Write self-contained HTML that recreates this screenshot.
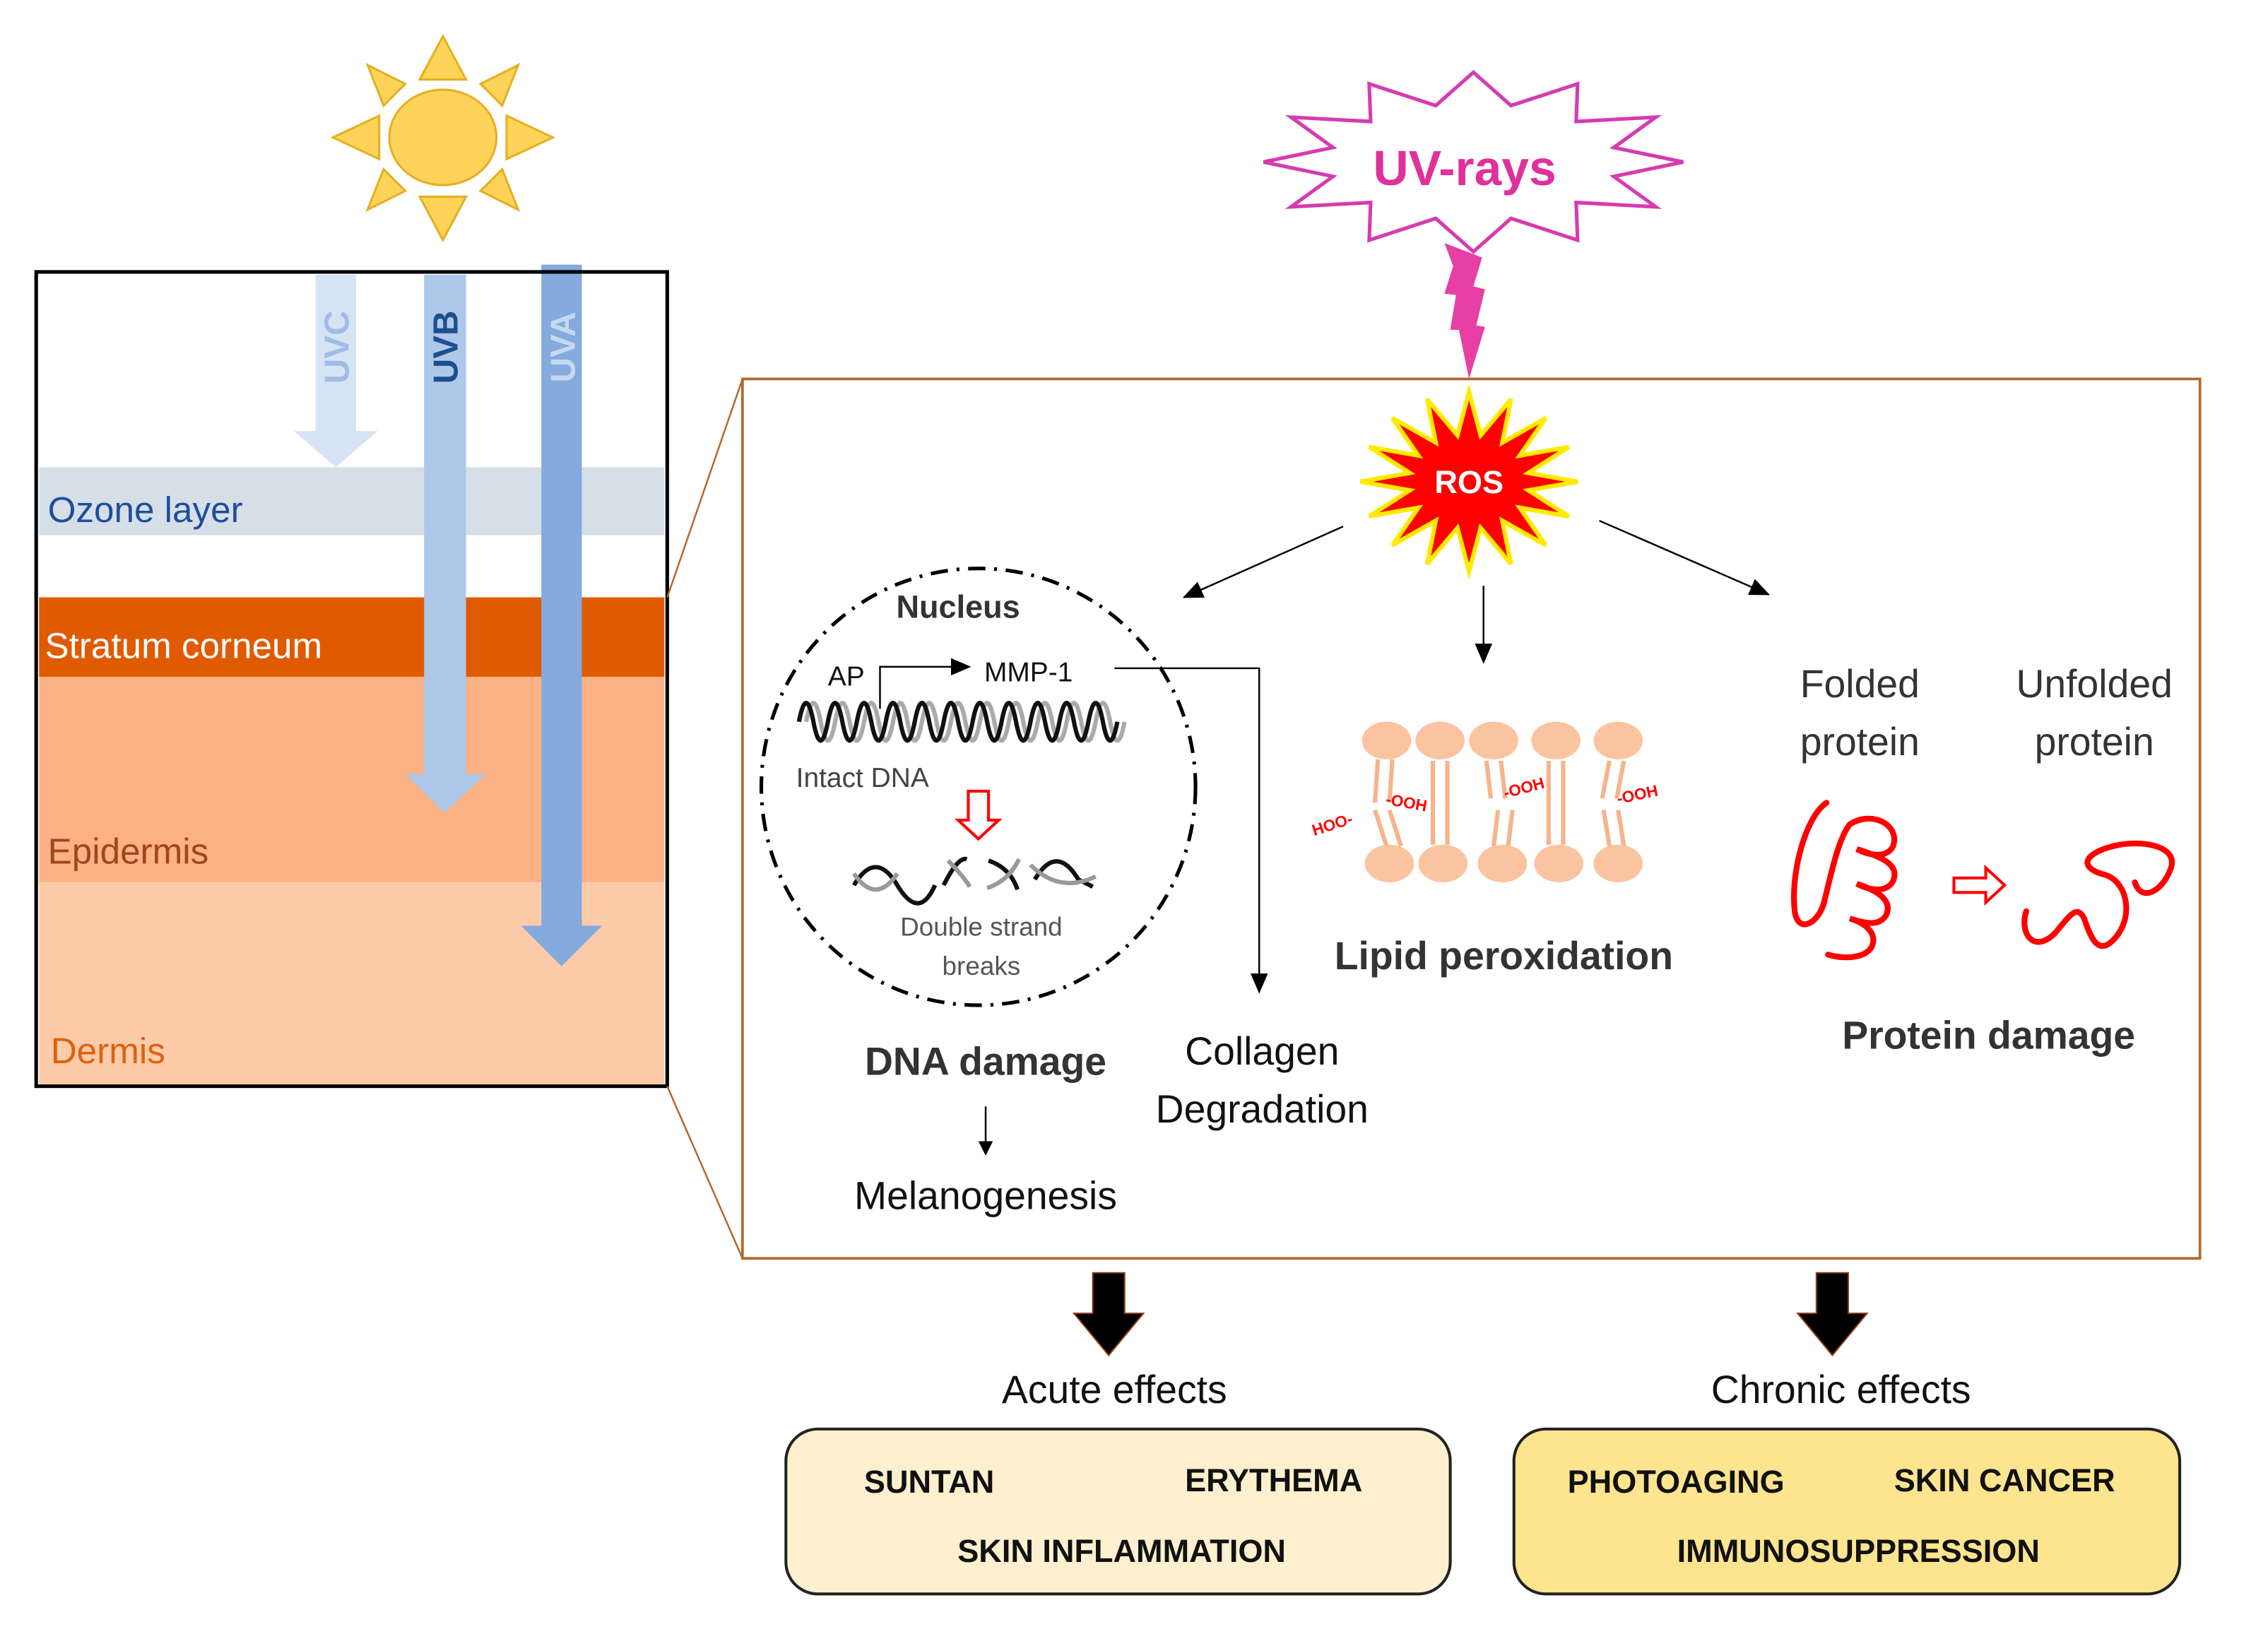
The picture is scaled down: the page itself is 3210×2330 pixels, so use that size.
<!DOCTYPE html>
<html><head><meta charset="utf-8"><style>
html,body{margin:0;padding:0;background:#fff;}
svg{display:block;}
text{font-family:"Liberation Sans",sans-serif;}
</style></head><body>
<svg width="3210" height="2330" viewBox="0 0 1567 1138" preserveAspectRatio="none" xmlns="http://www.w3.org/2000/svg">
<rect width="1567" height="1138" fill="#fff"/>
<!-- Sun -->
<g fill="#fdd35a" stroke="#e4b020" stroke-width="1.5">
<polygon points="306,25 290,55 322,55"/>
<polygon points="306,166 290,136 322,136"/>
<polygon points="230,95 262,80 262,110"/>
<polygon points="382,95 350,80 350,110"/>
<polygon points="358,45 332,58 347,73"/>
<polygon points="254,45 280,58 265,73"/>
<polygon points="358,145 332,132 347,117"/>
<polygon points="254,145 280,132 265,117"/>
<ellipse cx="306" cy="95" rx="37" ry="33"/>
</g>
<!-- Left box layers -->
<rect x="27" y="323" width="432" height="47" fill="#d6dfe8"/>
<rect x="27" y="413" width="432" height="55" fill="#e05a00"/>
<rect x="27" y="468" width="432" height="142" fill="#fbb183"/>
<rect x="27" y="610" width="432" height="140" fill="#fdcba8"/>
<text x="33" y="361" font-size="25" fill="#1f4e9c">Ozone layer</text>
<text x="31" y="455" font-size="25" fill="#fff">Stratum corneum</text>
<text x="33" y="597" font-size="25" fill="#a0461a">Epidermis</text>
<text x="35" y="735" font-size="25" fill="#e06010">Dermis</text>
<!-- UV arrows -->
<polygon points="218,190 246,190 246,298 261,298 232,323 203,298 218,298" fill="#d6e3f3"/>
<polygon points="293,190 322,190 322,535 336,535 307,562 280,535 293,535" fill="#adc8e8"/>
<polygon points="374,183 402,183 402,640 416,640 388,668 360,640 374,640" fill="#84aade"/>
<text transform="translate(241,240) rotate(-90)" font-size="24" font-weight="bold" fill="#9dbde6" text-anchor="middle">UVC</text>
<text transform="translate(316,240) rotate(-90)" font-size="24" font-weight="bold" fill="#1d4e8f" text-anchor="middle">UVB</text>
<text transform="translate(397,240) rotate(-90)" font-size="24" font-weight="bold" fill="#c6d8f0" text-anchor="middle">UVA</text>
<rect x="25" y="188" width="436" height="563" fill="none" stroke="#000" stroke-width="2.5"/>
<!-- zoom lines -->
<line x1="461" y1="413" x2="513" y2="262" stroke="#b5652a" stroke-width="1.2"/>
<line x1="461" y1="751" x2="513" y2="870" stroke="#b5652a" stroke-width="1.2"/>
<rect x="513" y="262" width="1007" height="608" fill="none" stroke="#b5652a" stroke-width="1.8"/>
<!-- UV-rays burst -->
<polygon points="1163,112 1115,122 1144,143 1089,140 1090,166 1044,151 1018,174 992,151 946,166 947,140 892,143 921,122 873,112 921,102 892,81 947,84 946,58 992,73 1018,50 1044,73 1090,58 1089,84 1144,81 1115,102" fill="#fff" stroke="#d63bb0" stroke-width="2.5"/>
<text x="1012" y="128" font-size="34" font-weight="bold" fill="#e0309a" text-anchor="middle">UV-rays</text>
<polygon points="998,168 1024,178 1018,198 1026,200 1020,225 1026,226 1015,262 1008,228 1002,228 1006,204 998,203 1004,184" fill="#e83fa5"/>
<!-- ROS -->
<polygon points="1090,333 1056,339 1084,357 1050,351 1068,377 1038,360 1044,390 1023,365 1015,395 1007,365 986,390 992,360 962,377 980,351 946,357 974,339 940,333 974,327 946,309 980,315 962,289 992,306 986,276 1007,301 1015,271 1023,301 1044,276 1038,306 1068,289 1050,315 1084,309 1056,327" fill="#f00" stroke="#ffea00" stroke-width="3"/>
<text x="1015" y="341" font-size="22" font-weight="bold" fill="#fff" text-anchor="middle">ROS</text>
<defs><marker id="ah" markerWidth="10" markerHeight="10" refX="9" refY="5" orient="auto" markerUnits="userSpaceOnUse"><path d="M0,0 L10,5 L0,10 z" fill="#000"/></marker>
<marker id="ah2" markerWidth="14" markerHeight="12" refX="13" refY="6" orient="auto" markerUnits="userSpaceOnUse"><path d="M0,0 L14,6 L0,12 z" fill="#000"/></marker></defs>
<g stroke="#000" stroke-width="1.2" fill="none">
<line x1="928" y1="364" x2="818" y2="413" marker-end="url(#ah2)"/>
<line x1="1025" y1="405" x2="1025" y2="458" marker-end="url(#ah2)"/>
<line x1="1105" y1="360" x2="1222" y2="411" marker-end="url(#ah2)"/>
<polyline points="608,490 608,461 670,461" marker-end="url(#ah2)"/>
<polyline points="770,462 870,462 870,686" marker-end="url(#ah2)"/>
<line x1="681" y1="765" x2="681" y2="798" marker-end="url(#ah)"/>
</g>
<!-- Nucleus -->
<ellipse cx="676" cy="544" rx="150" ry="151" fill="none" stroke="#000" stroke-width="2.5" stroke-dasharray="12,6,2,6"/>
<text x="662" y="427" font-size="22" font-weight="bold" fill="#333" text-anchor="middle">Nucleus</text>
<text x="572" y="474" font-size="19" fill="#111">AP</text>
<text x="680" y="471" font-size="19" fill="#111">MMP-1</text>
<path d="M557,499 q5,-26 10,0 t10,0 t10,0 t10,0 t10,0 t10,0 t10,0 t10,0 t10,0 t10,0 t10,0 t10,0 t10,0 t10,0 t10,0 t10,0 t10,0 t10,0 t10,0 t10,0 t10,0 t10,0" fill="none" stroke="#aaa" stroke-width="3"/>
<path d="M552,499 q5,-26 10,0 t10,0 t10,0 t10,0 t10,0 t10,0 t10,0 t10,0 t10,0 t10,0 t10,0 t10,0 t10,0 t10,0 t10,0 t10,0 t10,0 t10,0 t10,0 t10,0 t10,0 t10,0" fill="none" stroke="#111" stroke-width="3"/>
<text x="550" y="544" font-size="19" fill="#444">Intact DNA</text>
<polygon points="669,547 683,547 683,567 690,567 676,580 662,567 669,567" fill="#fff" stroke="#f00" stroke-width="2"/>
<g fill="none" stroke-width="3">
<path d="M590,612 q15,-25 30,0 t26,0" stroke="#111"/>
<path d="M590,604 q15,22 30,0" stroke="#999"/>
<path d="M652,612 q10,-20 16,-18" stroke="#111"/>
<path d="M655,595 q10,10 15,18" stroke="#999"/>
<path d="M683,595 q15,5 20,20" stroke="#111"/>
<path d="M682,614 q15,-5 22,-20" stroke="#999"/>
<path d="M715,608 q15,-25 30,0 l10,5" stroke="#111"/>
<path d="M712,598 q20,20 45,8" stroke="#999"/>
</g>
<text x="678" y="647" font-size="18" fill="#555" text-anchor="middle">Double strand</text>
<text x="678" y="674" font-size="18" fill="#555" text-anchor="middle">breaks</text>
<text x="681" y="743" font-size="27" font-weight="bold" fill="#333" text-anchor="middle">DNA damage</text>
<text x="681" y="836" font-size="27" fill="#111" text-anchor="middle">Melanogenesis</text>
<text x="872" y="736" font-size="27" fill="#111" text-anchor="middle">Collagen</text>
<text x="872" y="776" font-size="27" fill="#111" text-anchor="middle">Degradation</text>
<!-- Lipids -->
<g stroke="#f7b38a" stroke-width="3">
<line x1="952" y1="525" x2="950" y2="555"/><line x1="962" y1="525" x2="960" y2="555"/>
<line x1="950" y1="560" x2="958" y2="585"/><line x1="960" y1="560" x2="968" y2="585"/>
<line x1="990" y1="526" x2="990" y2="584"/><line x1="1000" y1="526" x2="1000" y2="584"/>
<line x1="1027" y1="526" x2="1030" y2="552"/><line x1="1037" y1="526" x2="1040" y2="552"/>
<line x1="1035" y1="560" x2="1032" y2="585"/><line x1="1045" y1="560" x2="1042" y2="585"/>
<line x1="1070" y1="526" x2="1070" y2="584"/><line x1="1080" y1="526" x2="1080" y2="584"/>
<line x1="1112" y1="526" x2="1107" y2="552"/><line x1="1122" y1="526" x2="1117" y2="552"/>
<line x1="1108" y1="560" x2="1112" y2="585"/><line x1="1118" y1="560" x2="1122" y2="585"/>
</g>
<g fill="#fbc4a0">
<ellipse cx="958" cy="512" rx="17" ry="13"/><ellipse cx="995" cy="512" rx="17" ry="13"/><ellipse cx="1032" cy="512" rx="17" ry="13"/><ellipse cx="1075" cy="512" rx="17" ry="13"/><ellipse cx="1118" cy="512" rx="17" ry="13"/>
<ellipse cx="960" cy="597" rx="17" ry="13"/><ellipse cx="997" cy="597" rx="17" ry="13"/><ellipse cx="1038" cy="597" rx="17" ry="13"/><ellipse cx="1077" cy="597" rx="17" ry="13"/><ellipse cx="1118" cy="597" rx="17" ry="13"/>
</g>
<g font-size="11" fill="#f00" font-weight="bold">
<text transform="translate(908,578) rotate(-18)">HOO-</text>
<text transform="translate(957,556) rotate(10)">-OOH</text>
<text transform="translate(1040,552) rotate(-15)">-OOH</text>
<text transform="translate(1118,556) rotate(-12)">-OOH</text>
</g>
<text x="1039" y="670" font-size="27" font-weight="bold" fill="#333" text-anchor="middle">Lipid peroxidation</text>
<!-- Protein -->
<text x="1285" y="482" font-size="27" fill="#333" text-anchor="middle">Folded</text>
<text x="1285" y="522" font-size="27" fill="#333" text-anchor="middle">protein</text>
<text x="1447" y="482" font-size="27" fill="#333" text-anchor="middle">Unfolded</text>
<text x="1447" y="522" font-size="27" fill="#333" text-anchor="middle">protein</text>
<g fill="none" stroke="#f00" stroke-width="4" stroke-linecap="round">
<path d="M1262,555 c-15,10 -25,50 -22,75 c2,15 15,10 20,-5 c5,-20 10,-45 18,-55 c15,-10 35,0 30,15 c-5,10 -20,5 -25,2 c15,5 30,10 25,22 c-5,10 -20,5 -25,2 c15,5 25,12 20,22 c-5,8 -15,5 -25,2 c10,3 20,10 15,20 c-5,8 -20,8 -30,5"/>
<path d="M1400,630 c-5,15 5,30 20,15 c10,-12 15,-20 20,-10 c5,15 10,25 20,15 c15,-15 10,-40 -5,-45 c-20,-5 -15,-15 5,-20 c20,-5 45,0 40,15 c-5,15 -20,25 -25,10"/>
</g>
<polygon points="1350,607 1372,607 1372,600 1385,612 1372,624 1372,617 1350,617" fill="#fff" stroke="#f00" stroke-width="2"/>
<text x="1374" y="725" font-size="27" font-weight="bold" fill="#333" text-anchor="middle">Protein damage</text>
<!-- bottom arrows -->
<polygon points="755,880 777,880 777,908 790,908 766,937 742,908 755,908" fill="#000" stroke="#8a3a10" stroke-width="1"/>
<polygon points="1255,880 1277,880 1277,908 1290,908 1266,937 1242,908 1255,908" fill="#000" stroke="#8a3a10" stroke-width="1"/>
<text x="770" y="970" font-size="27" fill="#111" text-anchor="middle">Acute effects</text>
<text x="1272" y="970" font-size="27" fill="#111" text-anchor="middle">Chronic effects</text>
<rect x="543" y="988" width="459" height="114" rx="22" fill="#fef0cf" stroke="#222" stroke-width="2"/>
<rect x="1046" y="988" width="460" height="114" rx="22" fill="#fde48f" stroke="#222" stroke-width="2"/>
<g font-size="22" font-weight="bold" fill="#111" text-anchor="middle">
<text x="642" y="1032">SUNTAN</text>
<text x="880" y="1031">ERYTHEMA</text>
<text x="775" y="1080">SKIN INFLAMMATION</text>
<text x="1158" y="1032">PHOTOAGING</text>
<text x="1385" y="1031">SKIN CANCER</text>
<text x="1284" y="1080">IMMUNOSUPPRESSION</text>
</g>
</svg>
</body></html>
